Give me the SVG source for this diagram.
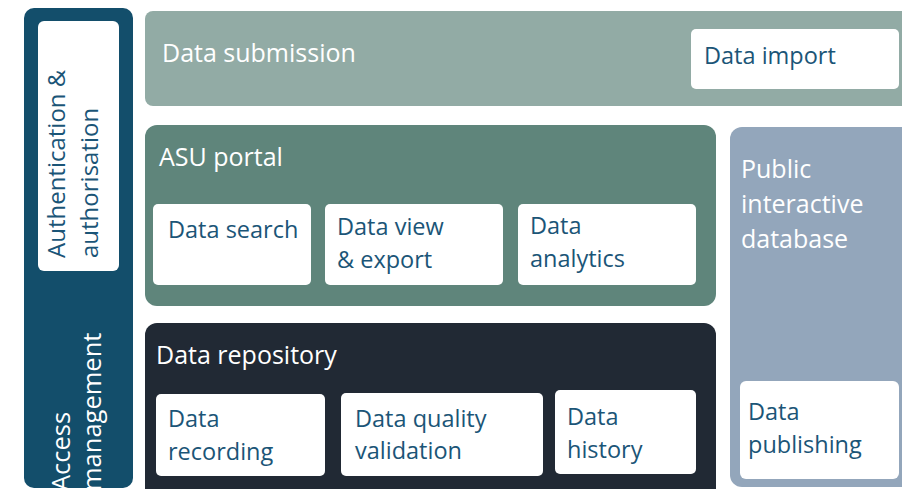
<svg xmlns="http://www.w3.org/2000/svg" width="902" height="489" viewBox="0 0 902 489">
<style>
text{font-family:"Open Sans","Noto Sans","DejaVu Sans",sans-serif;font-size:23.5px}
.h{font-size:25px}
.r{font-size:24px}
.a{font-size:25.5px}
.w{fill:#ffffff}
.b{fill:#1b5577}
.box{fill:#ffffff}
</style>
<rect width="902" height="489" fill="#ffffff"/>
<g id="access">
<rect x="24" y="8" width="109" height="480" rx="10" fill="#134e6b"/>
<text class="w a" transform="translate(70,491) rotate(-90)">Access</text>
<text class="w a" transform="translate(101,491) rotate(-90)">management</text>
</g>
<g id="auth">
<rect x="38" y="21" width="81" height="250" rx="6" class="box"/>
<text class="b r" transform="translate(65,258) rotate(-90)">Authentication &amp;</text>
<text class="b r" transform="translate(98,258) rotate(-90)">authorisation</text>
</g>
<g id="submission">
<rect x="145" y="11" width="770" height="95" rx="8" fill="#92aba5"/>
<text class="w h" x="162" y="62">Data submission</text>
</g>
<g id="import">
<rect x="691" y="29" width="208" height="60" rx="5" class="box"/>
<text class="b" x="704" y="64">Data import</text>
</g>
<g id="portal">
<rect x="145" y="125" width="571" height="181" rx="12" fill="#5f857b"/>
<text class="w h" x="159" y="166">ASU portal</text>
</g>
<g id="search">
<rect x="153" y="204" width="158" height="81" rx="5" class="box"/>
<text class="b" x="168" y="238">Data search</text>
</g>
<g id="view">
<rect x="325" y="204" width="178" height="81" rx="5" class="box"/>
<text class="b" x="337" y="235">Data view</text>
<text class="b" x="337" y="268">&amp; export</text>
</g>
<g id="analytics">
<rect x="518" y="204" width="178" height="81" rx="5" class="box"/>
<text class="b" x="530" y="234">Data</text>
<text class="b" x="530" y="267">analytics</text>
</g>
<g id="public">
<rect x="730" y="127" width="190" height="360" rx="12" fill="#93a6bb"/>
<text class="w h" x="741" y="178">Public</text>
<text class="w h" x="741" y="213">interactive</text>
<text class="w h" x="741" y="248">database</text>
</g>
<g id="publishing">
<rect x="740" y="381" width="159" height="98" rx="6" class="box"/>
<text class="b" x="748" y="420">Data</text>
<text class="b" x="748" y="453">publishing</text>
</g>
<g id="repository">
<rect x="145" y="323" width="571" height="180" rx="12" fill="#212934"/>
<text class="w h" x="156" y="364">Data repository</text>
</g>
<g id="recording">
<rect x="156" y="394" width="169" height="82" rx="5" class="box"/>
<text class="b" x="168" y="427">Data</text>
<text class="b" x="168" y="460">recording</text>
</g>
<g id="quality">
<rect x="341" y="393" width="202" height="83" rx="5" class="box"/>
<text class="b" x="355" y="427">Data quality</text>
<text class="b" x="355" y="459">validation</text>
</g>
<g id="history">
<rect x="555" y="390" width="141" height="84" rx="5" class="box"/>
<text class="b" x="567" y="425">Data</text>
<text class="b" x="567" y="458">history</text>
</g>
<g id="connectors"></g>
</svg>
